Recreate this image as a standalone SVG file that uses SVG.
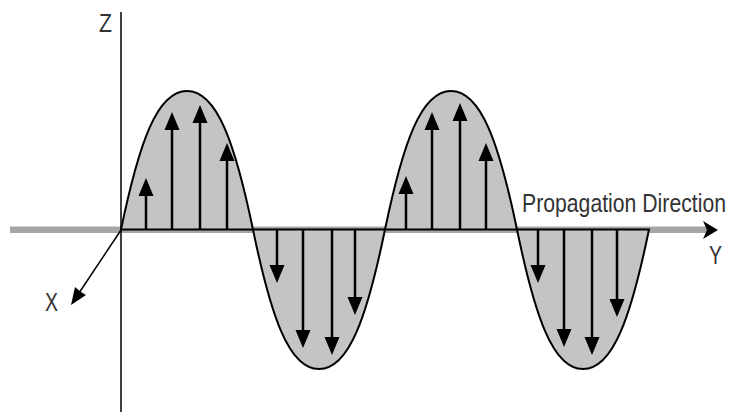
<svg xmlns="http://www.w3.org/2000/svg" width="736" height="417" viewBox="0 0 736 417">
<defs>
<style>
.lbl{font-family:"Liberation Sans",Arial,sans-serif;font-size:26px;fill:#333;}
.shaft{stroke:#000;stroke-width:2.5;fill:none;}
.head{fill:#000;}
.axis{stroke:#000;stroke-width:1.5;fill:none;}
</style>
<polygon id="up" class="head" points="0,0 -7.5,18 7.5,18"/>
<polygon id="dn" class="head" points="0,0 -7.5,-18 7.5,-18"/>
</defs>
<rect width="736" height="417" fill="#fff"/>
<g id="y-axis">
<rect x="10" y="226.5" width="697" height="6.5" fill="#a6a6a6"/>
<polygon points="718,230 703,221 707,230 703,239" fill="#000"/>
</g>
<g id="wave">
<path d="M121,229.5 C139,143 157,91 187,91 C217,91 235,143 253,229.5 C271,317 289,369 319,369 C349,369 367,317 385,229.5 C403,143 421,91 451,91 C481,91 499,143 517,229.5 C535,317 553,369 583,369 C613,369 631,317 649,229.5 Z" fill="#c4c4c4" stroke="#000" stroke-width="2"/>
</g>
<g id="z-axis">
<line class="axis" x1="121" y1="12" x2="121" y2="412"/>
</g>
<g id="x-axis">
<line class="axis" x1="121" y1="230" x2="79" y2="293"/>
<polygon points="71,305 86,295 81,292 75,287" fill="#000"/>
</g>
<g id="connectors">
<g id="hump1">
<line class="shaft" x1="146" y1="229" x2="146" y2="190"/><use href="#up" x="146" y="178"/>
<line class="shaft" x1="172" y1="229" x2="172" y2="124"/><use href="#up" x="172" y="112"/>
<line class="shaft" x1="200" y1="229" x2="200" y2="117"/><use href="#up" x="200" y="105"/>
<line class="shaft" x1="227" y1="229" x2="227" y2="155"/><use href="#up" x="227" y="143"/>
</g>
<g id="trough1">
<line class="shaft" x1="277" y1="229" x2="277" y2="271"/><use href="#dn" x="277" y="283"/>
<line class="shaft" x1="303" y1="229" x2="303" y2="336"/><use href="#dn" x="303" y="348"/>
<line class="shaft" x1="332" y1="229" x2="332" y2="343"/><use href="#dn" x="332" y="355"/>
<line class="shaft" x1="355" y1="229" x2="355" y2="303"/><use href="#dn" x="355" y="315"/>
</g>
<g id="hump2">
<line class="shaft" x1="406" y1="229" x2="406" y2="188"/><use href="#up" x="406" y="176"/>
<line class="shaft" x1="432" y1="229" x2="432" y2="124"/><use href="#up" x="432" y="112"/>
<line class="shaft" x1="460" y1="229" x2="460" y2="115"/><use href="#up" x="460" y="103"/>
<line class="shaft" x1="486" y1="229" x2="486" y2="155"/><use href="#up" x="486" y="143"/>
</g>
<g id="trough2">
<line class="shaft" x1="538" y1="229" x2="538" y2="271"/><use href="#dn" x="538" y="283"/>
<line class="shaft" x1="564" y1="229" x2="564" y2="335"/><use href="#dn" x="564" y="347"/>
<line class="shaft" x1="592" y1="229" x2="592" y2="343"/><use href="#dn" x="592" y="355"/>
<line class="shaft" x1="617" y1="229" x2="617" y2="305"/><use href="#dn" x="617" y="317"/>
</g>
</g>
<g id="labels">
<text class="lbl" x="99" y="32" textLength="13" lengthAdjust="spacingAndGlyphs">Z</text>
<text class="lbl" x="45" y="311" textLength="13" lengthAdjust="spacingAndGlyphs">X</text>
<text class="lbl" x="709" y="264" textLength="13" lengthAdjust="spacingAndGlyphs">Y</text>
<text class="lbl" x="522" y="212" textLength="204" lengthAdjust="spacingAndGlyphs">Propagation Direction</text>
</g>
</svg>
